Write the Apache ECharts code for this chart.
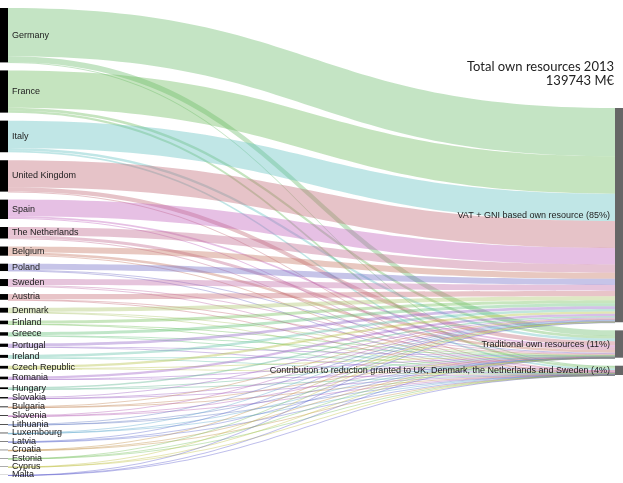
<!DOCTYPE html>
<html><head><meta charset="utf-8">
<script src="https://cdn.jsdelivr.net/npm/echarts@6.0.0/dist/echarts.min.js"></script>
<style>html,body{margin:0;padding:0;background:#fff}#c{width:623px;height:483px}</style>
</head><body><div id="c"></div>
<script>
// Member states, sorted by total own resources 2013 (M€)
const countries = ['Germany','France','Italy','United Kingdom','Spain','The Netherlands','Belgium','Poland','Sweden','Austria','Denmark','Finland','Greece','Portugal','Ireland','Czech Republic','Romania','Hungary','Slovakia','Bulgaria','Slovenia','Lithuania','Luxembourg','Latvia','Croatia','Estonia','Cyprus','Malta'];
// VAT + GNI based own resource (M€)
const vatGni = [26850,20850,15200,15018,9200,4650,3355,3370,3360,2950,2220,1730,1640,1560,1360,1250,1260,820,620,365,325,295,297,220,202,162,150,61];
// Traditional own resources (M€)
const traditional = [3150,1400,1450,2350,1000,1650,1434,450,480,190,300,130,130,120,190,200,120,100,90,55,60,60,18,35,18,25,18,9];
// Contribution to reductions (M€)
const contribution = [300,1250,950,100,600,100,311,280,60,60,180,140,130,120,100,110,100,70,50,30,25,25,25,15,10,13,12,5];
const targetNames = ['VAT + GNI based own resource','Traditional own resources','Contribution to reduction granted to UK, Denmark, the Netherlands and Sweden'];
const titleText = 'Total own resources 2013';
const unitText = 'M€';

const linkColors = ['#6bbc6b','#6ebc5f','#61c0c0','#c06975','#c061bb','#c0698e','#c57561','#706bc5','#c06ba7','#c56b75','#acc56b','#75c05c','#61c075','#8e61c5','#61c0a7','#b4c043','#9b5cc5','#5cb48e','#9b5cc0','#c08250','#b45cb4','#5c75c0','#5ca7cd','#5c69cd','#c08e43','#75c05c','#c0c043','#5c5ccd'];

const series = [vatGni, traditional, contribution];
const targetTotals = series.map(a => a.reduce((s, v) => s + v, 0));
const grandTotal = targetTotals.reduce((s, v) => s + v, 0);
const targetLabels = targetNames.map((n, j) => n + ' (' + Math.round(targetTotals[j] / grandTotal * 100) + '%)');

const labelFont = { fontFamily: 'Liberation Sans, Arial, sans-serif', fontSize: 9, color: '#222' };

function buildNodes(localYs) {
  const nodes = countries.map(c => ({
    name: c,
    itemStyle: { color: '#000' },
    label: Object.assign({ position: 'right', distance: 4 }, labelFont)
  }));
  targetLabels.forEach((t, j) => {
    const n = {
      name: t,
      itemStyle: { color: '#666' },
      label: Object.assign({ position: 'left', distance: 5 }, labelFont)
    };
    if (localYs) n.localY = localYs[j];
    nodes.push(n);
  });
  return nodes;
}

const links = [];
countries.forEach((c, i) => {
  series.forEach((arr, j) => {
    if (arr[i] > 0) links.push({ source: c, target: targetLabels[j], value: arr[i], lineStyle: { color: linkColors[i], opacity: 0.4 } });
  });
});

const chart = echarts.init(document.getElementById('c'), null, { renderer: 'canvas' });
function makeOption(localYs) {
  return {
    backgroundColor: '#fff',
    animation: false,
    graphic: [{
      type: 'text', x: 614, y: 60,
      style: { text: titleText + '\n' + grandTotal + ' ' + unitText, align: 'right', verticalAlign: 'top', font: '13px Lato, sans-serif', fill: '#222', lineHeight: 14 }
    }],
    series: [{
      type: 'sankey',
      left: 0, right: 0, top: 8, bottom: 8,
      nodeWidth: 8, nodeGap: 8,
      layoutIterations: 0,
      draggable: false,
      emphasis: { disabled: true },
      lineStyle: { curveness: 0.5 },
      data: buildNodes(localYs),
      links: links
    }]
  };
}
chart.setOption(makeOption(null));

// shift the right-hand column down, keeping the library's own node sizes
const columnShift = 100;
let localYs = null;
try {
  const sm = chart.getModel().getSeriesByIndex(0);
  const graph = sm.getGraph();
  const H = sm.layoutInfo.height;
  localYs = targetLabels.map((t, j) => (graph.getNodeByIndex(countries.length + j).getLayout().y + columnShift) / H);
} catch (e) {
  const H = 483 - 16;
  const ky = (H - (countries.length - 1) * 8) / grandTotal;
  let y = columnShift;
  localYs = targetTotals.map(v => { const r = y / H; y += v * ky + 8; return r; });
}
chart.setOption(makeOption(localYs));
</script></body></html>
